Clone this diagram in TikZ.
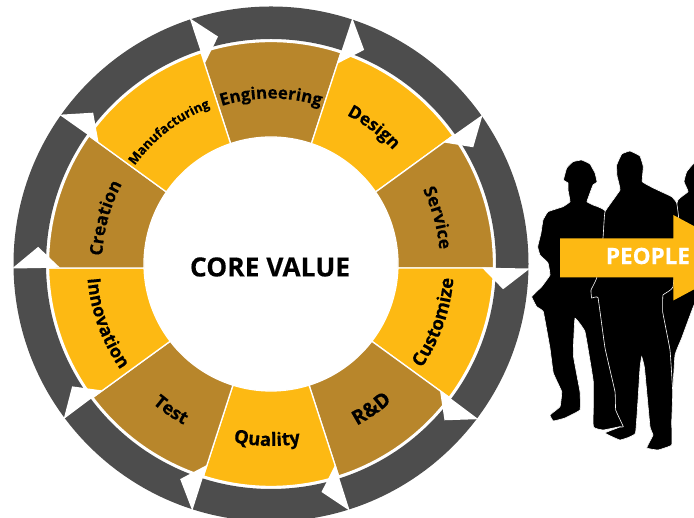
\documentclass[tikz,border=0pt]{standalone}
\usepackage{fontspec}
\setmainfont[BoldFeatures={FakeBold=0.25}]{Open Sans}
\usetikzlibrary{decorations.text}
\definecolor{gold}{HTML}{FDB913}
\definecolor{brown}{HTML}{B8862B}
\definecolor{ringgray}{HTML}{4D4D4D}
\tikzset{
  seg/.style={draw=white,line width=1.3pt,line join=miter},
  person/.style={fill=black,draw=white,line width=0.6pt},
}
\newcommand\segcw[4]{\path[decorate,decoration={text along path,text={|\fontsize{#4}{#4}\selectfont\bfseries|#3},text align=center}] (#1+32:#2) arc[start angle=#1+32,end angle=#1-32,radius=#2];}
\newcommand\segccw[4]{\path[decorate,decoration={text along path,text={|\fontsize{#4}{#4}\selectfont\bfseries|#3},text align=center}] (#1-32:#2) arc[start angle=#1-32,end angle=#1+32,radius=#2];}
\begin{document}
\begin{tikzpicture}[x=1pt,y=1pt]
\useasboundingbox (0,0) rectangle (694,518);
\clip (0,0) rectangle (694,518);
\fill[white] (0,0) rectangle (694,518);
\begin{scope}[shift={(271,254)}]
  % outer ring
  \fill[ringgray,even odd rule] (0,0) circle[radius=257.5] (0,0) circle[radius=225];
  % segments: dividers are straight lines through a point 4 below the ring centre
  \foreach \a/\b/\c in {72/108/brown,36/72/gold,0/36/brown,-36/0/gold,-72/-36/brown,-108/-72/gold,-144/-108/brown,-180/-144/gold,-216/-180/brown,-252/-216/gold}{
    \pgfmathsetmacro\ai{\a-1.805*cos(\a)}
    \pgfmathsetmacro\ao{\a-1.03*cos(\a)}
    \pgfmathsetmacro\bi{\b-1.805*cos(\b)}
    \pgfmathsetmacro\bo{\b-1.03*cos(\b)}
    \filldraw[seg,fill=\c] (\ai:127) -- (\ao:222.5) arc[start angle=\ao,end angle=\bo,radius=222.5] -- (\bi:127) arc[start angle=\bi,end angle=\ai,radius=127] -- cycle;
  }
  % arrowheads
  \foreach \a in {72,36,0,-36,-72,-108,-144,-180,-216,-252}{
    \pgfmathsetmacro\m{\a-cos(\a)}
    \fill[white] (\m:259) -- (\m-5.2:233.5) -- (\m:211) -- cycle;
  }
  % labels
  \segcw{90}{165.5}{Engineering}{17}
  \segcw{53}{167}{Design}{17.5}
  \segcw{15.5}{169}{Service}{17.5}
  \segccw{-19.6}{183}{Customize}{18.5}
  \segccw{-55.3}{183}{R{\&}D}{20}
  \segccw{-91.3}{182}{Quality}{18.5}
  \segccw{235.6}{183}{Test}{18}
  \segccw{199.8}{184}{Innovation}{18}
  \segcw{164.5}{169}{Creation}{17.5}
  \segcw{127.7}{168}{Manufacturing}{13}
\end{scope}
\node[font=\fontsize{26.4}{26.4}\selectfont\bfseries,inner sep=0pt] (core) at (270,251) {CORE VALUE};
% right person
\filldraw[person] plot[smooth cycle,tension=.2] coordinates {
 (702,362) (694,355) (686.7,346.3) (684,336.3) (688,326.3) (678,318) (670,288) (660,218) (672,126) (675,163) (681.7,180) (694,213) (702,225)};
% left person
\filldraw[person] plot[smooth cycle,tension=.15] coordinates {
 (563.5,338) (566.7,350) (573,356.3) (581.7,358) (590,354) (595,345) (597,336) (593,333) (590,325) (587,316.3) (593,313) (605,307.3)
 (640,250) (630,92) (620,91.3) (603.3,88) (593.3,91.3) (593.3,136.3) (585,186.3) (575,199.7) (573.3,163) (580,126.3) (580,108) (565,100) (553.3,97) (550,103) (560,111.3) (561.7,126.3) (553.3,145) (550,169.7) (543.3,206.3) (536.7,211.3) (531.7,221.3) (541.7,231.3) (550,243) (548,255) (540,263) (537.7,271.3) (541,285) (543,298) (548,306.3) (563,311.3) (570,316.3) (568,328) (568,335)};
% centre person
\filldraw[person] plot[smooth cycle,tension=.15] coordinates {
 (616.7,353) (621.7,364) (630,367) (640,362) (643.3,351.3) (642.3,336.3) (653.3,330) (671.7,321.3) (676.7,315) (679,295) (673,231) (663,223) (662.7,206) (670,168) (672.7,126) (671.7,96.3) (671.7,73) (658,68) (646.7,70) (653,83) (650,91.3) (644.5,150) (641.7,161.3) (640,150) (635.5,85) (620,78) (605,85) (620,91) (623.3,91.3) (615.7,108) (615,126.3) (605,170) (598,220.3) (591.7,220) (591,228) (596.7,240) (603,280) (605,306.3) (620,328) (617,342)};
% arrow
\fill[gold] (560,279.7) -- (673.3,279.7) -- (673.3,303) -- (753,260.2) -- (673.3,217.5) -- (673.3,240.7) -- (560,240.7) -- cycle;
\node[font=\fontsize{22.5}{22.5}\selectfont\bfseries,text=white,inner sep=0pt] (people) at (648,262) {PEOPLE};
\end{tikzpicture}
\end{document}
